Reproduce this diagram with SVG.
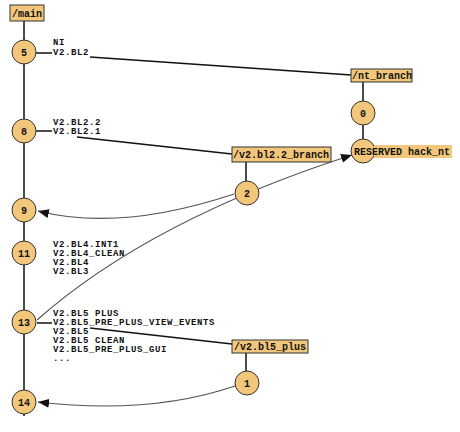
<svg xmlns="http://www.w3.org/2000/svg" width="460" height="432" viewBox="0 0 460 432">
<style>
.bg{fill:#ffffff}
.node circle{fill:#F3C77B;stroke:#333;stroke-width:1}
.box rect{fill:#F3C77B;stroke:#333;stroke-width:1}
.num{font-family:"Liberation Mono",monospace;font-size:10px;font-weight:bold;fill:#111;text-anchor:middle}
.bx{font-family:"Liberation Mono",monospace;font-size:10px;font-weight:bold;fill:#111}
.lbl{font-family:"Liberation Mono",monospace;font-size:9px;letter-spacing:0.6px;font-weight:bold;fill:#111}
.ln{fill:none;stroke:#111;stroke-width:1.5}
.mg{fill:none;stroke:#555;stroke-width:1.2}
</style>
<defs>
<marker id="ah" markerUnits="userSpaceOnUse" markerWidth="12" markerHeight="10" refX="11" refY="4.5" orient="auto">
<path d="M0,0 L11,4.5 L0,9 z" fill="#111"/>
</marker>
</defs>
<rect class="bg" x="0" y="0" width="460" height="432"/>
<g id="connectors">
<path class="ln" d="M24,21 V416"/>
<path class="ln" d="M36,53 H52"/>
<path class="ln" d="M90,57 L351,75"/>
<path class="ln" d="M36,131 H52"/>
<path class="ln" d="M77,137 L232,154"/>
<path class="ln" d="M363,82 V101"/>
<path class="ln" d="M363,125 V139"/>
<path class="ln" d="M246,162 V181"/>
<path class="ln" d="M37,323 H52"/>
<path class="ln" d="M90,328 L232,344"/>
<path class="ln" d="M246,353 V371"/>
<path class="mg" d="M234,194 Q120,232 38,211" marker-end="url(#ah)"/>
<path class="mg" d="M235,386 Q150,415 38,402" marker-end="url(#ah)"/>
<path class="mg" d="M37,320 Q150,220 352,155" marker-end="url(#ah)"/>
</g>
<g id="main" class="box"><rect x="10" y="5" width="34" height="16"/><text class="bx" x="12" y="17">/main</text></g>
<g id="nt_branch" class="box"><rect x="351" y="69" width="61" height="13"/><text class="bx" x="352" y="79">/nt_branch</text></g>
<g id="v2_bl2_2_branch" class="box"><rect x="232" y="147" width="99" height="15"/><text class="bx" x="233" y="158">/v2.bl2.2_branch</text></g>
<g id="v2_bl5_plus" class="box"><rect x="232" y="340" width="76" height="13"/><text class="bx" x="234" y="350">/v2.bl5_plus</text></g>
<g id="n5" class="node"><circle cx="24" cy="52" r="12"/><text class="num" x="24" y="56">5</text></g>
<g id="n8" class="node"><circle cx="24" cy="131" r="12"/><text class="num" x="24" y="135">8</text></g>
<g id="n9" class="node"><circle cx="24" cy="210" r="12"/><text class="num" x="24" y="214">9</text></g>
<g id="n11" class="node"><circle cx="24" cy="253" r="12"/><text class="num" x="24" y="257">11</text></g>
<g id="n13" class="node"><circle cx="24" cy="322" r="12"/><text class="num" x="24" y="326">13</text></g>
<g id="n14" class="node"><circle cx="24" cy="402" r="12"/><text class="num" x="24" y="406">14</text></g>
<g id="n0" class="node"><circle cx="363" cy="113" r="12"/><text class="num" x="363" y="117">0</text></g>
<g id="n2" class="node"><circle cx="247" cy="193" r="12"/><text class="num" x="247" y="197">2</text></g>
<g id="n1" class="node"><circle cx="247" cy="383" r="12"/><text class="num" x="247" y="387">1</text></g>
<g id="reserved" class="node"><circle cx="363" cy="151" r="12"/><rect x="374" y="145" width="78" height="13" fill="#F3C77B"/><text class="bx" x="354" y="155">RESERVED hack_nt</text></g>
<g id="labels5"><text class="lbl" x="53" y="45">NI</text><text class="lbl" x="53" y="55">V2.BL2</text></g>
<g id="labels8"><text class="lbl" x="53" y="125">V2.BL2.2</text><text class="lbl" x="53" y="134">V2.BL2.1</text></g>
<g id="labels11"><text class="lbl" x="53" y="247">V2.BL4.INT1</text><text class="lbl" x="53" y="256">V2.BL4_CLEAN</text><text class="lbl" x="53" y="265">V2.BL4</text><text class="lbl" x="53" y="274">V2.BL3</text></g>
<g id="labels13"><text class="lbl" x="53" y="316">V2.BL5 PLUS</text><text class="lbl" x="53" y="325">V2.BL5_PRE_PLUS_VIEW_EVENTS</text><text class="lbl" x="53" y="334">V2.BL5</text><text class="lbl" x="53" y="343">V2.BL5 CLEAN</text><text class="lbl" x="53" y="352">V2.BL5_PRE_PLUS_GUI</text><text class="lbl" x="53" y="361">...</text></g>
</svg>
